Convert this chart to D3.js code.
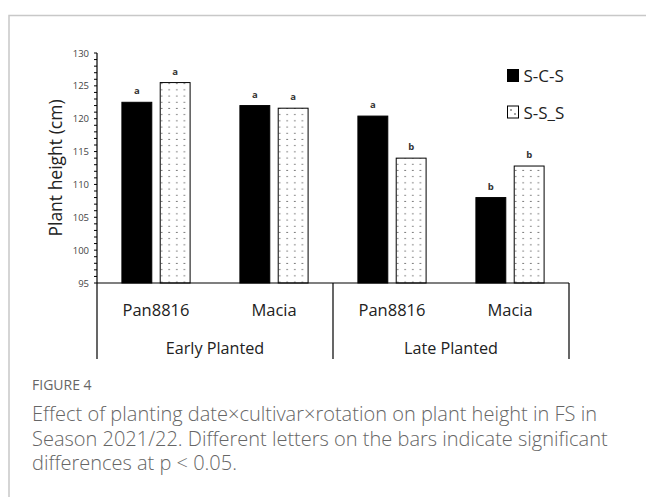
<!DOCTYPE html>
<html><head><meta charset="utf-8">
<script src="https://cdn.jsdelivr.net/npm/d3@7"></script>
<style>body{margin:0;background:#fff;}svg{display:block;}</style>
</head><body>
<script>
const plantingDates = ["Early Planted", "Late Planted"];
const cultivars = ["Pan8816", "Macia", "Pan8816", "Macia"];
const seriesNames = ["S-C-S", "S-S_S"];
const scsValues = [122.5, 122.0, 120.4, 108.0];
const sssValues = [125.5, 121.6, 114.0, 112.8];
const scsLetters = ["a", "a", "a", "b"];
const sssLetters = ["a", "a", "b", "b"];
const yTicks = [95, 100, 105, 110, 115, 120, 125, 130];
const captionTitle = "FIGURE 4";
const captionLines = [
  "Effect of planting date×cultivar×rotation on plant height in FS in",
  "Season 2021/22. Different letters on the bars indicate significant",
  "differences at p < 0.05."
];

const W = 646, H = 497;
const svg = d3.select("body").append("svg").attr("width", W).attr("height", H);

// frame
svg.append("path").attr("d", `M9,${H} V15.5 H${W}`).attr("fill", "none").attr("stroke", "#c8c8c8").attr("stroke-width", 1.5);

const defs = svg.append("defs");
const pat = defs.append("pattern").attr("id", "dots").attr("patternUnits", "userSpaceOnUse")
  .attr("width", 7.6).attr("height", 6.2);
pat.append("rect").attr("width", 7.6).attr("height", 6.2).attr("fill", "#fff");
pat.append("circle").attr("cx", 3.8).attr("cy", 3).attr("r", 0.65).attr("fill", "#333");

const x0 = 97, x1 = 569, yTop = 53, yBase = 283;
const y = d3.scaleLinear().domain([95, 130]).range([yBase, yTop]);
const xc = d3.scaleBand().domain(d3.range(cultivars.length)).range([x0, x1]).paddingInner(0).paddingOuter(0);
const xs = d3.scaleBand().domain(seriesNames).range([0, xc.bandwidth()]).paddingInner(0.22).paddingOuter(0.65);

const font = "'Open Sans', 'Liberation Sans', sans-serif";

// y axis
const minor = d3.range(95, 130.01, 1);
const g = svg.append("g");
g.selectAll("line.minor").data(minor).join("line")
  .attr("x1", x0 - 3).attr("x2", x0).attr("y1", d => y(d)).attr("y2", d => y(d))
  .attr("stroke", "#000").attr("stroke-width", 1);
g.selectAll("text.tick").data(yTicks).join("text")
  .attr("x", x0 - 8).attr("y", d => y(d) + 3.5).attr("text-anchor", "end")
  .attr("font-family", font).attr("font-size", 9.5).attr("fill", "#444").text(d => d);
g.append("line").attr("x1", x0).attr("x2", x0).attr("y1", yTop).attr("y2", 359).attr("stroke", "#000").attr("stroke-width", 1.2);

// bars
const groups = svg.append("g").selectAll("g").data(cultivars.map((c, i) => i)).join("g")
  .attr("transform", i => `translate(${xc(i)},0)`);
const series = [
  {name: seriesNames[0], vals: scsValues, letters: scsLetters, fill: "#000"},
  {name: seriesNames[1], vals: sssValues, letters: sssLetters, fill: "url(#dots)"}
];
series.forEach(s => {
  groups.append("rect")
    .attr("x", xs(s.name)).attr("width", xs.bandwidth())
    .attr("y", i => y(s.vals[i])).attr("height", i => yBase - y(s.vals[i]))
    .attr("fill", s.fill).attr("stroke", "#000").attr("stroke-width", 1);
  groups.append("text")
    .attr("x", xs(s.name) + xs.bandwidth() / 2).attr("y", i => y(s.vals[i]) - 8)
    .attr("text-anchor", "middle").attr("font-family", font).attr("font-size", 9.5).attr("font-weight", "bold")
    .attr("fill", "#333").text(i => s.letters[i]);
});

// x axis lines
svg.append("line").attr("x1", x0).attr("x2", x1).attr("y1", yBase).attr("y2", yBase).attr("stroke", "#000").attr("stroke-width", 1.2);
const mid = xc(2);
[mid, x1].forEach(xx => svg.append("line").attr("x1", xx).attr("x2", xx).attr("y1", yBase).attr("y2", 359).attr("stroke", "#000").attr("stroke-width", 1.2));

// category labels
svg.append("g").selectAll("text").data(cultivars).join("text")
  .attr("x", (d, i) => xc(i) + xc.bandwidth() / 2).attr("y", 316).attr("text-anchor", "middle")
  .attr("font-family", font).attr("font-size", 16.5).attr("fill", "#222").text(d => d);
svg.append("g").selectAll("text").data(plantingDates).join("text")
  .attr("x", (d, i) => (xc(i * 2) + xc(i * 2 + 1) + xc.bandwidth()) / 2).attr("y", 354).attr("text-anchor", "middle")
  .attr("font-family", font).attr("font-size", 16.2).attr("fill", "#222").text(d => d);

// y label
svg.append("text").attr("transform", `translate(62,168) rotate(-90)`).attr("text-anchor", "middle")
  .attr("font-family", font).attr("font-size", 17.5).attr("fill", "#222").text("Plant height (cm)");

// legend
series.forEach((s, i) => {
  const ly = 69.5 + i * 36.5;
  svg.append("rect").attr("x", 507.5).attr("y", ly).attr("width", 11).attr("height", 12)
    .attr("fill", i === 0 ? "#000" : "#fff").attr("stroke", "#000").attr("stroke-width", 1);
  if (i === 1) {
    svg.append("circle").attr("cx", 511).attr("cy", ly + 4).attr("r", 0.7).attr("fill", "#000");
    svg.append("circle").attr("cx", 515).attr("cy", ly + 8).attr("r", 0.7).attr("fill", "#000");
  }
  svg.append("text").attr("x", 523.5).attr("y", ly + 12.5).attr("font-family", font).attr("font-size", 17)
    .attr("fill", "#222").text(s.name);
});

// caption
svg.append("text").attr("x", 32).attr("y", 390).attr("font-family", font).attr("font-size", 14)
  .attr("fill", "#666").text(captionTitle);
svg.append("g").selectAll("text").data(captionLines).join("text")
  .attr("x", 32).attr("y", (d, i) => 421 + i * 24.7).attr("font-family", font).attr("font-size", 20)
  .attr("font-weight", 300).attr("fill", "#666").text(d => d);
</script>
</body></html>
